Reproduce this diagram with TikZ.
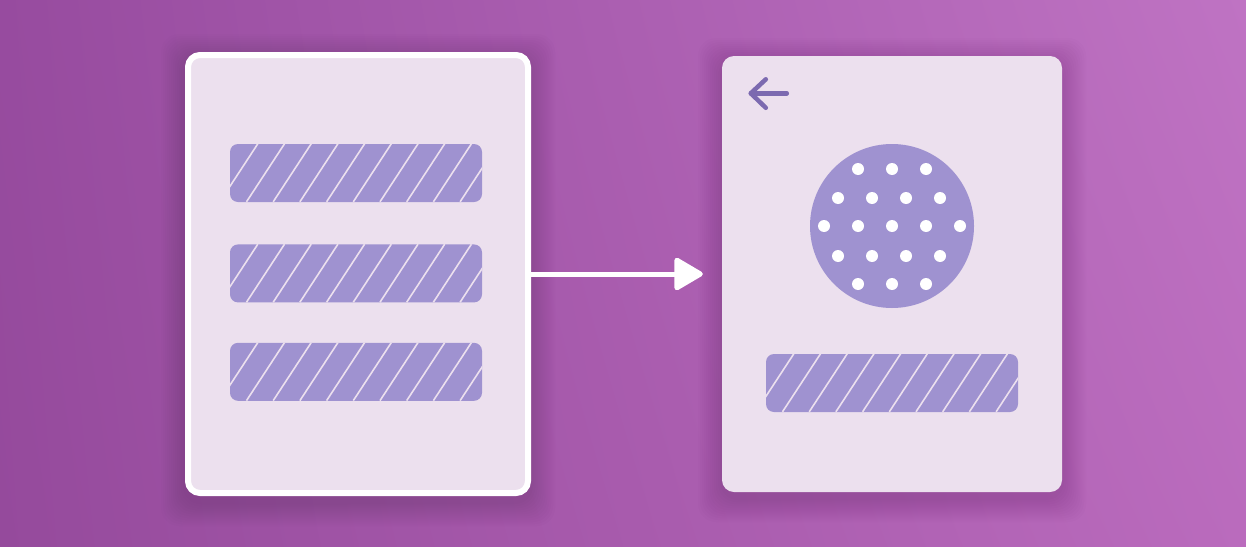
\documentclass[tikz,border=0pt]{standalone}
\usetikzlibrary{positioning,calc,arrows.meta,shadings}
\definecolor{bgtl}{HTML}{974B9F}
\definecolor{bgtr}{HTML}{BF73C3}
\definecolor{bgbl}{HTML}{954A9C}
\definecolor{bgbr}{HTML}{BA6BBD}
\definecolor{cardbg}{HTML}{ECE0EE}
\definecolor{barfill}{HTML}{9F92D0}
\definecolor{backink}{HTML}{7C6AB0}
\definecolor{shadowink}{HTML}{4A1450}

\begin{document}
\begin{tikzpicture}[x=1pt, y=-1pt,
	card/.style={fill=cardbg, rounded corners=12pt, minimum width=340pt, minimum height=436pt, inner sep=0pt},
	bar/.style={fill=barfill, rounded corners=8pt, minimum width=252pt, minimum height=58pt, inner sep=0pt},
	hatch/.style={draw=cardbg, line width=1.6pt},
	flow/.style={draw=white, line width=5pt, -{Triangle[length=31pt, width=35pt, round]}, shorten >=19pt},
	backlink/.style={draw=backink, line width=4.5pt, line cap=round, line join=round}]
	\shade[upper left=bgtl, upper right=bgtr, lower left=bgbl, lower right=bgbr] (0,0) rectangle (1246,546);
	\useasboundingbox (0,0) rectangle (1246,546);
	\foreach \s in {2,4,...,24} {
		\fill[shadowink, opacity=0.014, rounded corners=18pt] (185-\s,58-\s) rectangle (531+\s,502+\s);
		\fill[shadowink, opacity=0.014, rounded corners=18pt] (722-\s,62-\s) rectangle (1062+\s,498+\s);
	}
	\node[card, draw=white, line width=6pt, minimum height=438pt] (listcard) at (358,274) {};
	\node[card] (detailcard) at (892,274) {};
	\node[bar] (row1) at (356,173) {};
	\node[bar, below=42pt of row1] (row2) {};
	\node[bar, below=40pt of row2] (row3) {};
	\node[circle, fill=barfill, minimum size=164pt, inner sep=0pt] (avatar) at (892,226) {};
	\node[bar] (namebar) at (892,383) {};
	\foreach \b in {row1,row2,row3,namebar} {
		\begin{scope}
			\clip[rounded corners=8pt] (\b.south west) rectangle (\b.north east);
			\foreach \k in {-1,...,9}
				\draw[hatch] ($(\b.north west)+(28+26.7*\k,0)$) -- ++(-38,58);
		\end{scope}
	}
	\foreach \dx/\dy in {-34/-57,0/-57,34/-57,
		-54/-28,-20/-28,14/-28,48/-28,
		-68/0,-34/0,0/0,34/0,68/0,
		-54/30,-20/30,14/30,48/30,
		-34/58,0/58,34/58}
		\fill[white] ($(avatar)+(\dx,\dy)$) circle (6);
	\coordinate (backtip) at ($(detailcard.north west)+(29,37.5)$);
	\draw[backlink] ($(backtip)+(15,-14)$) -- (backtip) -- ($(backtip)+(15,14.5)$);
	\draw[backlink] (backtip) -- ++(36,0);
	\draw[flow] (listcard.east) -- (detailcard.west);
\end{tikzpicture}
\end{document}
